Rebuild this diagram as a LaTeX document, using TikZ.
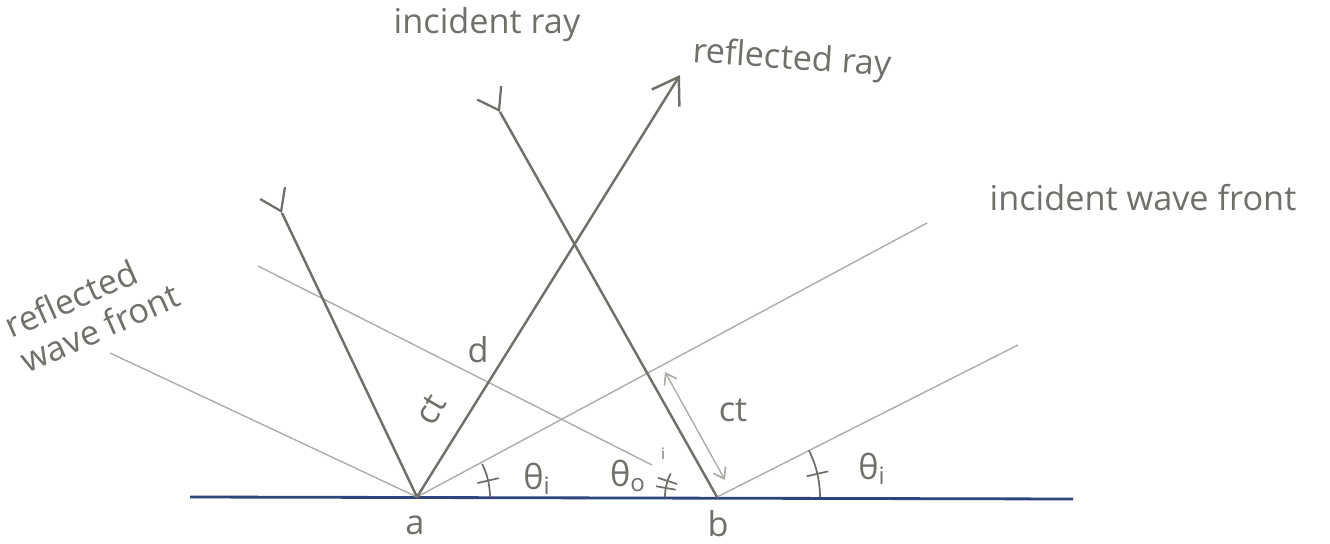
\documentclass[tikz,border=0pt]{standalone}
\usepackage{xcolor}
\usepackage{fontspec}
\setmainfont{Open Sans}
\usetikzlibrary{arrows.meta,positioning,decorations.markings}
\definecolor{reflectInk}{RGB}{112,112,106}
\definecolor{reflectFront}{RGB}{172,172,168}
\definecolor{reflectSurface}{RGB}{45,68,125}
\colorlet{ink}{reflectInk}

\begin{document}
\begin{tikzpicture}[x=0.02cm,y=-0.02cm,
  ray/.style={draw=ink,line width=1.4pt},
  front/.style={draw=reflectFront,line width=0.8pt},
  raytail/.style={postaction={decorate,decoration={markings,mark=at position 0 with {\arrow[ink]{Straight Barb[length=0.4cm,width=0.55cm,line width=1.3pt]}}}}},
  anglemark/.style={draw=ink,line width=1pt},
  hand/.style={text=ink,font=\fontsize{19.5}{22}\selectfont,inner sep=1pt}]
\useasboundingbox (0,0) rectangle (1330,544);
\coordinate (a) at (417,497);
\coordinate (b) at (717,497);
\coordinate (surfL) at (190,497);
\coordinate (surfR) at (1073,499);
\coordinate (in1) at (282,213);
\coordinate (in2) at (500,112);
\coordinate (out) at (680,75);
\coordinate (wf1) at (927,223);
\coordinate (wf2) at (1018,345);
\coordinate (rf1s) at (258,266);
\coordinate (rf1e) at (652,465);
\coordinate (rf2) at (110,353);
\coordinate (cts) at (665,372);
\coordinate (cte) at (725,480);
\draw[line width=1.6pt,reflectSurface] (surfL) -- (surfR);
\draw[front] (a) -- (wf1);
\draw[front] (b) -- (wf2);
\draw[front] (rf1s) -- (rf1e);
\draw[front] (rf2) -- (a);
\draw[ray,raytail] (in1) -- (a);
\draw[ray,raytail] (in2) -- (b);
\draw[ray,-{Straight Barb[length=0.5cm,width=0.65cm]}] (a) -- (out);
\draw[front,{Straight Barb[length=0.2cm,width=0.28cm,line width=1pt]}-{Straight Barb[length=0.2cm,width=0.28cm,line width=1pt]}] (cts) -- (cte);
\draw[anglemark] ([shift={(0:73)}]a) arc[start angle=0,end angle=-27,radius=73];
\draw[anglemark] ([shift={(-13:62)}]a) -- ([shift={(-13:84)}]a);
\draw[anglemark] ([shift={(0:103)}]b) arc[start angle=0,end angle=-27,radius=103];
\draw[anglemark] ([shift={(-13:92)}]b) -- ([shift={(-13:114)}]b);
\draw[anglemark] ([shift={(180:52)}]b) arc[start angle=180,end angle=207,radius=52];
\draw[anglemark] ([shift={(190:42)}]b) -- ([shift={(190:62)}]b);
\draw[anglemark] ([shift={(198:42)}]b) -- ([shift={(198:62)}]b);
\node[hand] (incray) at (487,25) {incident ray};
\node[hand,rotate=-4] (refray) at (792,60) {reflected ray};
\node[hand] (incfront) at (1143,198) {incident wave front};
\node[hand,rotate=24,align=left] (reffront) at (92,310) {reflected\\wave front};
\node[hand] (dlbl) at (478,350) {d};
\node[hand,rotate=60] (ctleft) at (431,410) {ct};
\node[hand] (ctright) at (733,410) {ct};
\node[hand] (thia) at (537,479) {θ\textsubscript{i}};
\node[hand] (thob) at (628,476) {θ\textsubscript{o}};
\node[hand,font=\small] (isup) at (663,454) {i};
\node[hand] (thib) at (872,469) {θ\textsubscript{i}};
\node[hand] (albl) at (415,525) {a};
\node[hand] (blbl) at (718,524) {b};
\end{tikzpicture}
\end{document}
